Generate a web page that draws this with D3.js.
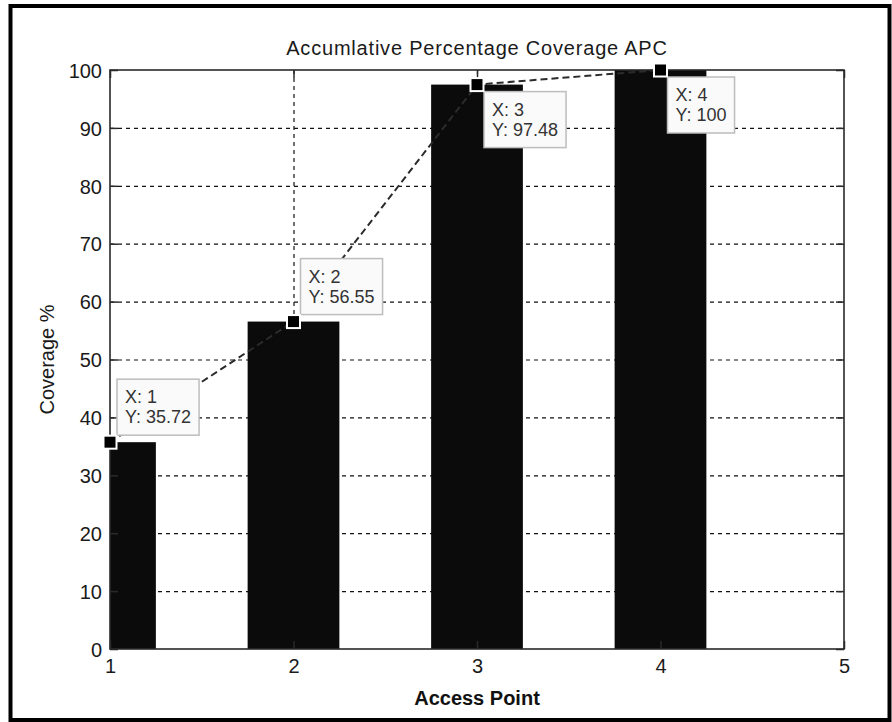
<!DOCTYPE html>
<html>
<head>
<meta charset="utf-8">
<script src="https://cdn.jsdelivr.net/npm/d3@7"></script>
<style>
  body { margin: 0; background: #fff; }
  svg { display: block; }
</style>
</head>
<body>
<div id="chart"></div>
<script>
// data
const accessPoints = [1, 2, 3, 4];
const coverage = [35.72, 56.55, 97.48, 100];
const tipSide = ['above', 'above', 'below', 'below'];
const xTicks = [1, 2, 3, 4, 5];
const yTicks = [0, 10, 20, 30, 40, 50, 60, 70, 80, 90, 100];
const titleText = 'Accumlative Percentage Coverage APC';
const xLabel = 'Access Point';
const yLabel = 'Coverage %';

const width = 892;
const height = 722;
const margin = {top: 70, right: 48, bottom: 73, left: 110};
const font = '"Liberation Sans", Arial, Helvetica, sans-serif';
const barWidth = 0.5;

const svg = d3.select('#chart')
  .append('svg')
  .attr('width', width)
  .attr('height', height)
  .attr('font-family', font);

svg.append('rect')
  .attr('width', width)
  .attr('height', height)
  .attr('fill', '#fff');

const x = d3.scaleLinear()
  .domain([1, 5])
  .range([margin.left, width - margin.right]);

const y = d3.scaleLinear()
  .domain([0, 100])
  .range([height - margin.bottom, margin.top]);

const plotW = x.range()[1] - x.range()[0];
const plotH = y.range()[0] - y.range()[1];

svg.append('clipPath')
  .attr('id', 'plot-clip')
  .append('rect')
  .attr('x', margin.left)
  .attr('y', margin.top)
  .attr('width', plotW)
  .attr('height', plotH);

// grid
const grid = svg.append('g')
  .attr('stroke', '#111')
  .attr('stroke-width', 1.2)
  .attr('stroke-dasharray', '4,4');

grid.selectAll('.gy')
  .data(yTicks.filter(t => t > 0 && t < 100))
  .join('line')
  .attr('x1', margin.left)
  .attr('x2', width - margin.right)
  .attr('y1', d => y(d) + 0.5)
  .attr('y2', d => y(d) + 0.5);

grid.selectAll('.gx')
  .data(xTicks.filter(t => t > 1 && t < 5))
  .join('line')
  .attr('x1', d => x(d) + 0.5)
  .attr('x2', d => x(d) + 0.5)
  .attr('y1', margin.top)
  .attr('y2', height - margin.bottom);

// bars
svg.append('g')
  .attr('clip-path', 'url(#plot-clip)')
  .selectAll('rect')
  .data(accessPoints)
  .join('rect')
  .attr('x', d => x(d - barWidth / 2))
  .attr('width', d => x(d + barWidth / 2) - x(d - barWidth / 2))
  .attr('y', (d, i) => y(coverage[i]))
  .attr('height', (d, i) => y(0) - y(coverage[i]))
  .attr('fill', '#0b0b0b');

// dashed connecting line
svg.append('path')
  .datum(accessPoints.map((d, i) => [d, coverage[i]]))
  .attr('fill', 'none')
  .attr('stroke', '#2b2b2b')
  .attr('stroke-width', 2)
  .attr('stroke-dasharray', '7,4')
  .attr('d', d3.line().x(d => x(d[0])).y(d => y(d[1])));

// axes box + ticks
const axisColor = '#2a2a2a';
const tickLen = 8;

const yAxisL = d3.axisLeft(y).tickValues(yTicks).tickSizeInner(-tickLen).tickSizeOuter(0).tickPadding(8);
const yAxisR = d3.axisRight(y).tickValues(yTicks).tickSizeInner(-tickLen).tickSizeOuter(0).tickFormat('');
const xAxisB = d3.axisBottom(x).tickValues(xTicks).tickFormat(d3.format('d'))
  .tickSizeInner(-tickLen).tickSizeOuter(0).tickPadding(10);
const xAxisT = d3.axisTop(x).tickValues(xTicks).tickSizeInner(-tickLen).tickSizeOuter(0).tickFormat('');

function styleAxis(g) {
  g.select('.domain').remove();
  g.selectAll('.tick line').attr('stroke', axisColor).attr('stroke-width', 1.5);
  g.selectAll('.tick text')
    .attr('fill', '#1a1a1a')
    .attr('font-size', 20)
    .attr('font-family', font);
}

svg.append('g')
  .attr('transform', `translate(${margin.left},0)`)
  .call(yAxisL)
  .call(styleAxis)
  .call(g => g.selectAll('.tick text').attr('dy', '0.36em'));

svg.append('g')
  .attr('transform', `translate(${width - margin.right},0)`)
  .call(yAxisR)
  .call(styleAxis);

svg.append('g')
  .attr('transform', `translate(0,${height - margin.bottom})`)
  .call(xAxisB)
  .call(styleAxis);

svg.append('g')
  .attr('transform', `translate(0,${margin.top})`)
  .call(xAxisT)
  .call(styleAxis);

svg.append('rect')
  .attr('x', margin.left)
  .attr('y', margin.top)
  .attr('width', plotW)
  .attr('height', plotH)
  .attr('fill', 'none')
  .attr('stroke', axisColor)
  .attr('stroke-width', 1.6);

// data tips
const tips = svg.append('g');
const tipH = 56;
const tipGap = 7;

accessPoints.forEach((d, i) => {
  const mx = x(d);
  const my = y(coverage[i]);
  const g = tips.append('g');
  const box = g.append('rect')
    .attr('fill', '#fafafa')
    .attr('stroke', '#bdbdbd')
    .attr('stroke-width', 1.5);
  const left = mx + tipGap;
  const top = tipSide[i] === 'above' ? my - tipGap - tipH : my + tipGap;
  const lines = [`X: ${d}`, `Y: ${coverage[i]}`];
  const texts = g.selectAll('text')
    .data(lines)
    .join('text')
    .attr('x', left + 8)
    .attr('y', (t, j) => top + 24 + j * 20)
    .attr('font-size', 18)
    .attr('fill', '#333')
    .text(t => t);
  let tw = 0;
  texts.each(function() { tw = Math.max(tw, this.getComputedTextLength()); });
  box.attr('x', left)
    .attr('y', top)
    .attr('width', tw + 16)
    .attr('height', tipH);
});

// markers on top
svg.append('g')
  .selectAll('rect')
  .data(accessPoints)
  .join('rect')
  .attr('x', d => x(d) - 6.5)
  .attr('y', (d, i) => y(coverage[i]) - 6.5)
  .attr('width', 13)
  .attr('height', 13)
  .attr('fill', '#000')
  .attr('stroke', '#fff')
  .attr('stroke-width', 2);

// title and labels
svg.append('text')
  .attr('x', (x.range()[0] + x.range()[1]) / 2)
  .attr('y', 55)
  .attr('text-anchor', 'middle')
  .attr('font-size', 20)
  .attr('letter-spacing', 0.8)
  .attr('fill', '#1a1a1a')
  .text(titleText);

svg.append('text')
  .attr('x', (x.range()[0] + x.range()[1]) / 2)
  .attr('y', 705)
  .attr('text-anchor', 'middle')
  .attr('font-size', 20)
  .attr('font-weight', 'bold')
  .attr('fill', '#111')
  .text(xLabel);

svg.append('text')
  .attr('transform', `translate(54,${(y.range()[0] + y.range()[1]) / 2}) rotate(-90)`)
  .attr('text-anchor', 'middle')
  .attr('font-size', 20)
  .attr('fill', '#1a1a1a')
  .text(yLabel);

// outer frame
svg.append('rect')
  .attr('x', 10.5)
  .attr('y', 6)
  .attr('width', 879)
  .attr('height', 714)
  .attr('fill', 'none')
  .attr('stroke', '#000')
  .attr('stroke-width', 4);
</script>
</body>
</html>
